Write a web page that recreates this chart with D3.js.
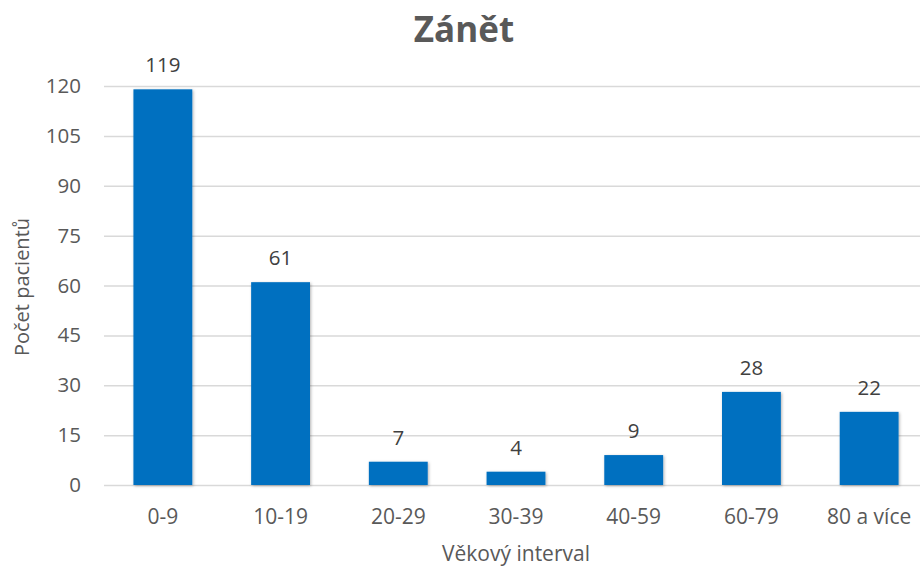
<!DOCTYPE html>
<html>
<head>
<meta charset="utf-8">
<script src="https://cdn.jsdelivr.net/npm/d3@7"></script>
<style>
  body { margin: 0; background: #fff; }
  svg { display: block; font-family: "Open Sans", sans-serif; }
</style>
</head>
<body>
<svg id="chart"></svg>
<script>
// data
var categories = ["0-9", "10-19", "20-29", "30-39", "40-59", "60-79", "80 a více"];
var counts = [119, 61, 7, 4, 9, 28, 22];
var yTicks = [0, 15, 30, 45, 60, 75, 90, 105, 120];

var width = 920, height = 567;
var plotLeft = 104, plotRight = 928, plotTop = 86, plotBottom = 485;

var svg = d3.select('svg#chart')
    .attr('width', width)
    .attr('height', height);

// soft shadow under the bars
var defs = svg.append('defs');
var shadow = defs.append('filter')
    .attr('id', 'shadow')
    .attr('x', '-20%').attr('y', '-20%')
    .attr('width', '140%').attr('height', '140%');
shadow.append('feDropShadow')
    .attr('dx', 1).attr('dy', 1)
    .attr('stdDeviation', 1.6)
    .attr('flood-color', '#000')
    .attr('flood-opacity', 0.3);

var x = d3.scaleBand()
    .domain(categories)
    .range([plotLeft, plotRight])
    .paddingInner(0.5)
    .paddingOuter(0.25);

var y = d3.scaleLinear()
    .domain([0, 120])
    .range([plotBottom, plotTop]);

// gridlines + y labels
var yAxis = d3.axisLeft(y)
    .tickValues(yTicks)
    .tickSize(-(plotRight - plotLeft))
    .tickPadding(23);

var gY = svg.append('g')
    .attr('transform', 'translate(' + plotLeft + ',0)')
    .call(yAxis);
gY.select('.domain').remove();
gY.selectAll('.tick line')
    .attr('stroke', '#d9d9d9')
    .attr('stroke-width', 1.5);
gY.selectAll('.tick text')
    .attr('fill', '#595959')
    .style('font-size', '20.5px')
    .style('font-family', '"Open Sans", sans-serif');

// bars
svg.append('g')
    .selectAll('rect')
    .data(counts)
    .join('rect')
    .attr('x', (d, i) => x(categories[i]))
    .attr('y', d => y(d))
    .attr('width', x.bandwidth())
    .attr('height', d => y(0) - y(d))
    .attr('fill', '#0070c0')
    .attr('filter', 'url(#shadow)');

// value labels
svg.append('g')
    .selectAll('text')
    .data(counts)
    .join('text')
    .attr('x', (d, i) => x(categories[i]) + x.bandwidth() / 2)
    .attr('y', d => y(d) - 17)
    .attr('text-anchor', 'middle')
    .attr('fill', '#404040')
    .style('font-size', '20.5px')
    .text(d => d);

// x axis labels
var xAxis = d3.axisBottom(x).tickSize(0).tickPadding(24);
var gX = svg.append('g')
    .attr('transform', 'translate(0,' + plotBottom + ')')
    .call(xAxis);
gX.select('.domain').remove();
gX.selectAll('.tick text')
    .attr('fill', '#595959')
    .style('font-size', '21px')
    .style('font-family', '"Open Sans", sans-serif');

// title
svg.append('text')
    .attr('x', 464)
    .attr('y', 42)
    .attr('text-anchor', 'middle')
    .attr('fill', '#595959')
    .style('font-size', '35px')
    .style('font-weight', 'bold')
    .text('Zánět');

// axis titles
svg.append('text')
    .attr('x', (plotLeft + plotRight) / 2)
    .attr('y', 561)
    .attr('text-anchor', 'middle')
    .attr('fill', '#595959')
    .style('font-size', '21px')
    .text('Věkový interval');

svg.append('text')
    .attr('transform', 'translate(29,287) rotate(-90)')
    .attr('text-anchor', 'middle')
    .attr('fill', '#595959')
    .style('font-size', '20px')
    .text('Počet pacientů');
</script>
</body>
</html>
